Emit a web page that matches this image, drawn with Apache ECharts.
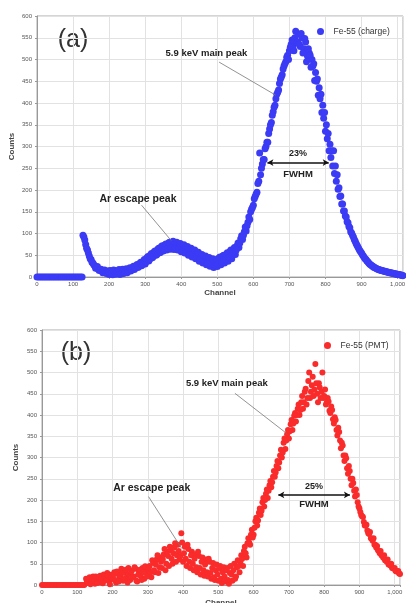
<!DOCTYPE html>
<html>
<head>
<meta charset="utf-8">
<script src="https://cdn.jsdelivr.net/npm/echarts@6/dist/echarts.min.js"></script>
<style>
html, body { margin: 0; padding: 0; background: #fff; }
#view { width: 406px; height: 603px; }
</style>
</head>
<body>
<div id="view"></div>
<script>
// one reading every 5 channels (0, 5, 10, ...)
var channelStep = 5
// a second pass of readings between those, starting at channel 127.5
var midStart = 127.5

var countsCharge = [
    0, 0, 0, 0, 0, 0, 0, 0, 0, 0,
    0, 0, 0, 0, 0, 0, 0, 0, 0, 0,
    0, 0, 0, 0, 0, 0, 92, 75, 62, 48,
    40, 32, 26, 22, 18, 16, 14, 12, 10, 14,
    6, 14, 5, 15, 7, 14, 6, 16, 8, 17,
    10, 18, 14, 22, 17, 26, 22, 31, 26, 36,
    30, 44, 37, 51, 44, 58, 50, 64, 56, 70,
    60, 74, 62, 78, 64, 80, 63, 78, 62, 76,
    58, 72, 55, 68, 50, 64, 46, 60, 42, 55,
    36, 50, 32, 46, 28, 42, 25, 40, 22, 38,
    24, 44, 28, 48, 32, 52, 36, 58, 42, 64,
    52, 72, 68, 88, 86, 104, 106, 126, 132, 156,
    165, 185, 195, 220, 235, 260, 270, 300, 310, 340,
    355, 380, 395, 420, 430, 455, 465, 485, 495, 510,
    520, 535, 530, 550, 540, 558, 530, 550, 525, 540,
    508, 515, 482, 485, 452, 450, 418, 410, 378, 365,
    335, 318, 290, 275, 255, 238, 220, 202, 185, 168,
    152, 140, 127, 116, 104, 96, 86, 77, 69, 61,
    55, 48, 42, 37, 32, 28, 25, 22, 20, 18,
    16, 15, 14, 13, 12, 11, 10, 9, 8, 7,
    6, 5, 4, 3
]

var countsChargeMid = [
    96, 85, 66, 55, 42, 34, 28, 20, 24, 15,
    18, 10, 16, 8, 12, 15, 9, 16, 7, 13,
    17, 8, 18, 10, 19, 13, 21, 16, 25, 20,
    29, 24, 34, 29, 40, 35, 47, 41, 54, 47,
    60, 52, 66, 57, 72, 62, 76, 66, 80, 68,
    82, 66, 80, 64, 77, 60, 74, 56, 70, 52,
    66, 48, 62, 44, 57, 40, 52, 36, 48, 33,
    45, 30, 42, 28, 40, 30, 46, 34, 50, 40,
    56, 45, 62, 52, 68, 62, 78, 78, 95, 96,
    115, 118, 138, 150, 160, 180, 190, 215, 285, 250,
    270, 295, 310, 330, 350, 372, 390, 410, 425, 445,
    460, 478, 490, 505, 500, 528, 545, 520, 565, 540,
    535, 560, 515, 548, 495, 525, 510, 500, 490, 470,
    455, 435, 420, 395, 378, 350, 330, 305, 290, 290,
    255, 235, 205, 186, 168, 152, 138, 125, 113, 101,
    92, 82, 73, 65, 58, 51, 45, 40, 35, 30,
    27, 24, 21, 19, 17, 16, 15, 13, 12, 11,
    10, 9, 8, 7, 7, 6, 5, 4
]

var countsPmt = [
    0, 0, 0, 0, 0, 0, 0, 0, 0, 0,
    0, 0, 0, 0, 0, 0, 0, 0, 0, 0,
    0, 0, 0, 0, 0, 15, 5, 18, 8, 20,
    3, 17, 10, 22, 6, 25, 12, 28, 8, 24,
    14, 30, 6, 26, 16, 38, 10, 30, 18, 40,
    12, 34, 20, 38, 8, 32, 22, 40, 15, 36,
    25, 45, 18, 52, 30, 60, 28, 65, 40, 72,
    35, 78, 45, 82, 50, 88, 55, 95, 60, 122,
    55, 90, 45, 85, 40, 78, 35, 72, 30, 68,
    25, 65, 22, 60, 20, 55, 15, 52, 12, 48,
    10, 45, 5, 42, 8, 40, 3, 45, 10, 50,
    20, 58, 30, 70, 45, 90, 65, 110, 95, 130,
    118, 150, 140, 170, 165, 195, 185, 215, 205, 235,
    230, 255, 255, 280, 275, 305, 300, 335, 320, 355,
    345, 378, 365, 398, 385, 415, 400, 430, 415, 455,
    425, 480, 440, 470, 445, 520, 450, 475, 440, 500,
    445, 425, 440, 410, 420, 390, 395, 365, 370, 340,
    335, 305, 305, 275, 280, 250, 250, 222, 225, 195,
    180, 165, 160, 140, 142, 122, 125, 108, 110, 95,
    92, 80, 80, 68, 70, 58, 60, 48, 50, 40,
    40, 32, 33, 26
]

var countsPmtMid = [
    8, 14, 2, 16, 10, 20, 5, 18, 14, 4,
    20, 16, 22, 2, 18, 24, 12, 32, 8, 22,
    28, 14, 36, 6, 26, 30, 18, 42, 10, 24,
    36, 12, 30, 44, 20, 38, 30, 58, 35, 48,
    70, 42, 55, 60, 85, 50, 68, 90, 62, 75,
    98, 70, 80, 68, 100, 75, 62, 95, 55, 70,
    50, 62, 42, 78, 40, 55, 35, 48, 30, 62,
    28, 40, 18, 35, 25, 38, 15, 30, 20, 35,
    12, 28, 25, 35, 15, 42, 45, 55, 62, 80,
    75, 98, 100, 118, 112, 135, 158, 152, 180, 175,
    205, 200, 225, 222, 245, 242, 268, 265, 292, 288,
    318, 312, 345, 340, 365, 362, 388, 380, 405, 400,
    425, 412, 445, 430, 462, 440, 500, 455, 490, 460,
    475, 430, 465, 455, 440, 460, 430, 432, 405, 412,
    380, 388, 352, 360, 322, 328, 292, 298, 262, 268,
    235, 240, 208, 212, 185, 172, 162, 148, 140, 128,
    120, 110, 104, 95, 88, 82, 75, 70, 64, 58,
    55, 48, 46, 40, 38, 33, 32, 27
]

// annotation anchors, in channel / counts
var notesCharge = {
    main: [470, 513], mainLine: [[505, 494], [662, 418]],
    escape: [280, 180], escapeLine: [[290, 165], [372, 84]],
    fwhm: [[639, 263], [809, 263]], pct: [724, 284], fwhmText: [724, 237], pctText: '23%'
}
var notesPmt = {
    main: [524, 474], mainLine: [[547, 451], [693, 357]],
    escape: [311, 227], escapeLine: [[302, 208], [396, 86]],
    fwhm: [[670, 212], [873, 212]], pct: [771, 232], fwhmText: [771, 190], pctText: '25%'
}

function toPoints(counts, start) {
    return counts.map(function (c, i) { return [start + i * channelStep, c] })
}

var labelFont = 'Liberation Sans'

function xAxisFor(gridIndex, nameGap) {
    return {
        type: 'value', gridIndex: gridIndex, min: 0, max: 1015, interval: 100,
        name: 'Channel', nameLocation: 'middle', nameGap: nameGap, nameMoveOverlap: false,
        nameTextStyle: { fontSize: 8, fontWeight: 'bold', color: '#444', fontFamily: labelFont },
        axisLine: { show: true, lineStyle: { color: '#999', width: 1 } },
        axisTick: { show: true, length: 2, lineStyle: { color: '#999' } },
        axisLabel: {
            fontSize: 6, color: '#555', margin: 4, fontFamily: labelFont,
            formatter: function (v) { return v % 100 === 0 ? v.toLocaleString('en-US') : '' }
        },
        splitLine: { show: true, lineStyle: { color: '#e2e2e2', width: 1 } }
    }
}

function yAxisFor(gridIndex, nameGap) {
    return {
        type: 'value', gridIndex: gridIndex, min: 0, max: 600, interval: 50,
        name: 'Counts', nameLocation: 'middle', nameGap: nameGap, nameMoveOverlap: false,
        nameTextStyle: { fontSize: 8, fontWeight: 'bold', color: '#444', fontFamily: labelFont },
        axisLine: { show: true, lineStyle: { color: '#999', width: 1 } },
        axisTick: { show: true, length: 2, lineStyle: { color: '#999' } },
        axisLabel: { fontSize: 6, color: '#555', margin: 5, fontFamily: labelFont },
        splitLine: { show: true, lineStyle: { color: '#e2e2e2', width: 1 } }
    }
}

function noteLabel(coord, text, size) {
    return {
        coord: coord,
        label: {
            show: true, position: 'inside', formatter: text,
            fontSize: size, fontWeight: 'bold', color: '#222', fontFamily: labelFont
        }
    }
}

function markersFor(n) {
    var leader = { color: '#777', width: 0.8, type: 'solid' }
    return {
        markLine: {
            silent: true, animation: false, symbol: ['none', 'none'],
            label: { show: false },
            data: [
                [{ coord: n.mainLine[0], lineStyle: leader }, { coord: n.mainLine[1] }],
                [{ coord: n.escapeLine[0], lineStyle: leader }, { coord: n.escapeLine[1] }],
                [
                    { coord: n.fwhm[0], symbol: 'arrow', symbolSize: [5, 6], lineStyle: { color: '#111', width: 1.5, type: 'solid' } },
                    { coord: n.fwhm[1], symbol: 'arrow', symbolSize: [5, 6] }
                ]
            ]
        },
        markPoint: {
            silent: true, animation: false, symbol: 'circle', symbolSize: 1,
            itemStyle: { color: 'rgba(0,0,0,0)' },
            data: [
                noteLabel(n.main, '5.9 keV main peak', 9.5),
                noteLabel(n.escape, 'Ar escape peak', 10.5),
                noteLabel(n.pct, n.pctText, 9),
                noteLabel(n.fwhmText, 'FWHM', 9.5)
            ]
        }
    }
}

var myChart = echarts.init(document.getElementById('view'), null, { renderer: 'canvas' })

var chargeSeries = {
    name: 'Fe-55 (charge)', type: 'scatter', xAxisIndex: 0, yAxisIndex: 0,
    symbol: 'circle', symbolSize: 7, itemStyle: { color: '#3b3bf6', opacity: 1 },
    data: toPoints(countsCharge, 0).concat(toPoints(countsChargeMid, midStart))
}
Object.assign(chargeSeries, markersFor(notesCharge))

var pmtSeries = {
    name: 'Fe-55 (PMT)', type: 'scatter', xAxisIndex: 1, yAxisIndex: 1,
    symbol: 'circle', symbolSize: 6, itemStyle: { color: '#fa2b2b', opacity: 1 },
    data: toPoints(countsPmt, 0).concat(toPoints(countsPmtMid, midStart))
}
Object.assign(pmtSeries, markersFor(notesPmt))

var option = {
    animation: false,
    backgroundColor: '#fff',
    grid: [
        { left: 37, top: 16, right: 3, bottom: 326, show: true, borderColor: '#aaa', borderWidth: 1, outerBoundsMode: 'none' },
        { left: 42, top: 330, right: 6, bottom: 18, show: true, borderColor: '#aaa', borderWidth: 1, outerBoundsMode: 'none' }
    ],
    xAxis: [xAxisFor(0, 12), xAxisFor(1, 14)],
    yAxis: [yAxisFor(0, 21), yAxisFor(1, 22)],
    legend: [
        {
            data: ['Fe-55 (charge)'], left: 317, top: 27, padding: 0, icon: 'circle',
            itemWidth: 16, itemHeight: 7, selectedMode: false,
            textStyle: { fontSize: 8.5, color: '#333', fontFamily: labelFont }
        },
        {
            data: ['Fe-55 (PMT)'], left: 324, top: 341, padding: 0, icon: 'circle',
            itemWidth: 16, itemHeight: 7, selectedMode: false,
            textStyle: { fontSize: 8.5, color: '#333', fontFamily: labelFont }
        }
    ],
    graphic: [
        { type: 'text', x: 73, y: 40, style: { text: '(a)', font: '25px "Liberation Sans"', fill: '#333', align: 'center', verticalAlign: 'middle' } },
        { type: 'text', x: 76, y: 353, style: { text: '(b)', font: '25px "Liberation Sans"', fill: '#333', align: 'center', verticalAlign: 'middle' } }
    ],
    series: [chargeSeries, pmtSeries]
}

myChart.setOption(option)
</script>
</body>
</html>
